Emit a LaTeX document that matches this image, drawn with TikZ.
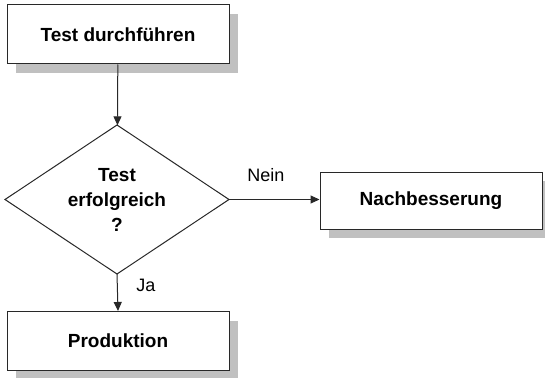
\documentclass[tikz,border=0pt]{standalone}
\usepackage{fontspec}
\setmainfont{Liberation Sans}
\usetikzlibrary{shapes.geometric,shadows,arrows.meta}
\definecolor{shadowgray}{RGB}{192,192,192}
\definecolor{linegray}{RGB}{40,40,40}
\begin{document}
\begin{tikzpicture}[x=1pt,y=-1pt,
  stepbox/.style={rectangle,draw=linegray,line width=1pt,fill=white,
    minimum width=222pt,minimum height=59pt,inner sep=0pt,
    font=\fontsize{19}{24}\selectfont\bfseries,
    drop shadow={shadow xshift=9pt,shadow yshift=-9pt,opacity=1,fill=shadowgray}},
  decision/.style={diamond,draw=linegray,line width=1pt,fill=white,
    minimum width=224pt,minimum height=149pt,inner sep=0pt,outer sep=0pt},
  decisiontext/.style={align=center,font=\fontsize{19}{25}\selectfont\bfseries},
  flow/.style={draw=linegray,line width=1pt,-{Triangle[length=9pt,width=8pt]}},
  edgelabel/.style={font=\fontsize{18}{22}\selectfont}]
\useasboundingbox (0,0) rectangle (545,377);
\node[stepbox] (test) at (118,34.5) {Test durchführen};
\node[decision] (check) at (117,199.5) {};
\node[decisiontext] (checktext) at (check.center) {Test\\erfolgreich\\?};
\node[stepbox,minimum height=57pt] (fix) at (431,200.5) {Nachbesserung};
\node[stepbox] (prod) at (118,341) {Produktion};
\draw[flow] (test) -- (check);
\draw[flow] (check.east) -- (fix.west |- check.east);
\draw[flow] (check.south) -- (prod.north);
\node[edgelabel] (nein) at (266,175) {Nein};
\node[edgelabel] (ja) at (146,285) {Ja};
\end{tikzpicture}
\end{document}
